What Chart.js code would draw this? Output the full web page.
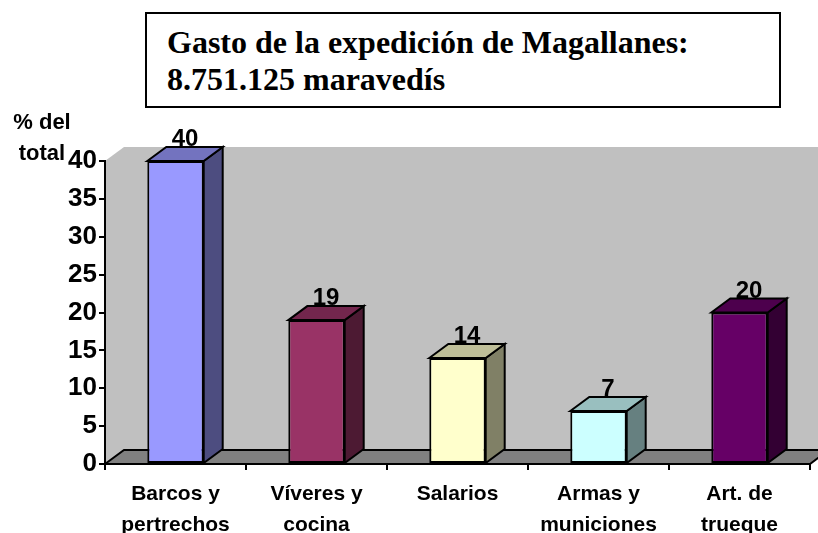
<!DOCTYPE html>
<html>
<head>
<meta charset="utf-8">
<script src="https://cdn.jsdelivr.net/npm/chart.js@4"></script>
<style>
  body { margin: 0; background: #fff; }
  #wrap { position: relative; width: 818px; height: 533px; }
  #chartTitle {
    position: absolute; left: 145px; top: 12px; width: 612px; height: 82px;
    border: 2px solid #000; padding: 10px 0 0 20px;
    font-family: "Liberation Serif", "Times New Roman", Times, serif;
    font-weight: bold; font-size: 32px; line-height: 37px;
    background: #fff; box-sizing: content-box; white-space: nowrap;
  }
  #unitLabel {
    position: absolute; left: 0; top: 106px; width: 84px; text-align: center;
    font-family: "Liberation Sans", Arial, sans-serif;
    font-weight: bold; font-size: 22px; line-height: 31px;
  }
</style>
</head>
<body>
<div id="wrap">
  <canvas id="gastoChart" width="818" height="533"></canvas>
  <div id="chartTitle">Gasto de la expedición de Magallanes:<br>8.751.125 maravedís</div>
  <div id="unitLabel">% del<br>total</div>
</div>
<script>
// data
const categories = [["Barcos y", "pertrechos"], ["Víveres y", "cocina"], "Salarios", ["Armas y", "municiones"], ["Art. de", "trueque"]];
const percents = [40, 19, 14, 7, 20];
const yTicks = [0, 5, 10, 15, 20, 25, 30, 35, 40];

const frontColors = ["#9999FF", "#993366", "#FFFFCC", "#CCFFFF", "#660066"];
const topColors = ["#7373BF", "#73264D", "#BFBF99", "#99BFBF", "#4D004D"];
const sideColors = ["#4D4D80", "#4D1A33", "#808066", "#668080", "#330033"];

const depthX = 19;
const depthY = -14;

function poly(ctx, pts, fill, stroke) {
  ctx.beginPath();
  ctx.moveTo(pts[0][0], pts[0][1]);
  for (let i = 1; i < pts.length; i++) ctx.lineTo(pts[i][0], pts[i][1]);
  ctx.closePath();
  ctx.fillStyle = fill;
  ctx.fill();
  if (stroke) {
    ctx.strokeStyle = stroke;
    ctx.lineWidth = 2;
    ctx.lineJoin = "miter";
    ctx.stroke();
  }
}

// walls and floor behind everything
const wallsPlugin = {
  id: "walls",
  beforeDraw(chart) {
    const { ctx, chartArea: a } = chart;
    ctx.save();
    // back wall + left side wall
    poly(ctx, [[a.left, a.top], [a.left + depthX, a.top + depthY], [a.right + depthX + 20, a.top + depthY],
      [a.right + depthX + 20, a.bottom + depthY], [a.left, a.bottom]], "#C0C0C0");
    // floor
    poly(ctx, [[a.left, a.bottom], [a.left + depthX, a.bottom + depthY], [a.right + depthX, a.bottom + depthY],
      [a.right, a.bottom]], "#808080", "#000");
    ctx.restore();
  }
};

// side and top faces of the bars, plus value labels
const bars3dPlugin = {
  id: "bars3d",
  afterDatasetsDraw(chart) {
    const { ctx } = chart;
    const meta = chart.getDatasetMeta(0);
    ctx.save();
    meta.data.forEach((bar, i) => {
      const p = bar.getProps(["x", "y", "base", "width"], true);
      const l = p.x - p.width / 2, r = p.x + p.width / 2;
      poly(ctx, [[r, p.y], [r + depthX, p.y + depthY], [r + depthX, p.base + depthY], [r, p.base]], sideColors[i], "#000");
      poly(ctx, [[l, p.y], [l + depthX, p.y + depthY], [r + depthX, p.y + depthY], [r, p.y]], topColors[i], "#000");
      ctx.fillStyle = "#000";
      ctx.font = "bold 24px 'Liberation Sans', Arial, sans-serif";
      ctx.textAlign = "center";
      ctx.textBaseline = "alphabetic";
      ctx.fillText(String(percents[i]), p.x + depthX / 2, p.y + depthY - 1);
    });
    ctx.restore();
  }
};

const ctx = document.getElementById("gastoChart").getContext("2d");
new Chart(ctx, {
  type: "bar",
  data: {
    labels: categories,
    datasets: [{
      data: percents,
      backgroundColor: frontColors,
      borderColor: "#000",
      borderWidth: 2,
      borderSkipped: false,
      categoryPercentage: 1,
      barPercentage: 0.4
    }]
  },
  options: {
    responsive: false,
    animation: false,
    layout: { padding: { top: 161, right: 8, left: 0, bottom: 0 } },
    plugins: { legend: { display: false }, tooltip: { enabled: false } },
    scales: {
      x: {
        grid: { drawOnChartArea: false, drawTicks: true, tickLength: 6, color: "#000", lineWidth: 2 },
        border: { color: "#000", width: 2 },
        ticks: {
          color: "#000", padding: 9, maxRotation: 0, autoSkip: false,
          font: { family: "'Liberation Sans', Arial, sans-serif", size: 21, weight: "bold", lineHeight: 1.48 }
        },
        afterFit(scale) { scale.height = 69; }
      },
      y: {
        min: 0, max: 40,
        afterBuildTicks(scale) { scale.ticks = yTicks.map(v => ({ value: v })); },
        grid: { drawOnChartArea: false, drawTicks: true, tickLength: 6, color: "#000", lineWidth: 2 },
        border: { color: "#000", width: 2 },
        ticks: {
          color: "#000", padding: 2,
          font: { family: "'Liberation Sans', Arial, sans-serif", size: 26, weight: "bold" }
        },
        afterFit(scale) { scale.width = 105; }
      }
    }
  },
  plugins: [wallsPlugin, bars3dPlugin]
});
</script>
</body>
</html>
